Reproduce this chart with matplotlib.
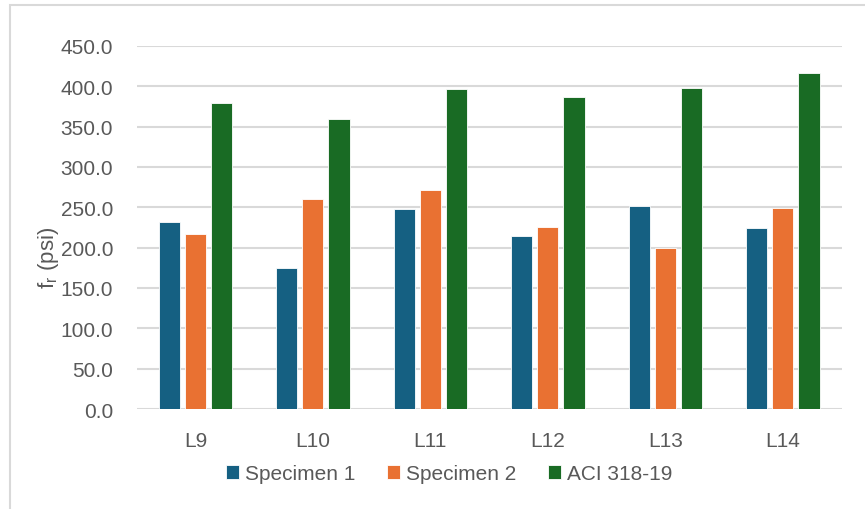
import numpy as np
import matplotlib.pyplot as plt
from matplotlib.patches import Rectangle

# flexural strength per specimen group
groups = ['L9', 'L10', 'L11', 'L12', 'L13', 'L14']
specimen_1 = [232.0, 175.0, 248.0, 215.0, 252.0, 224.0]
specimen_2 = [217.0, 260.0, 271.0, 226.0, 200.0, 249.0]
aci_318 = [379.0, 359.0, 397.0, 387.0, 398.0, 416.0]
series_names = ['Specimen 1', 'Specimen 2', 'ACI 318-19']

colors = ['#156082', '#E97132', '#196B24']
txt = '#595959'
grid = '#D9D9D9'

plt.rcParams['font.family'] = ['Liberation Sans', 'DejaVu Sans']

fig = plt.figure(figsize=(8.65, 5.10), dpi=100)
ax = fig.add_axes([0.158, 0.196, 0.815, 0.712])

x = np.arange(len(groups))
step = 0.222
width = 0.18
for i, (vals, c, name) in enumerate(zip([specimen_1, specimen_2, aci_318], colors, series_names)):
    ax.bar(x + (i - 1) * step, vals, width, color=c, edgecolor='white',
           linewidth=0.6, label=name, zorder=3)

ax.set_xlim(-0.5, len(groups) - 0.5)
ax.set_ylim(0, 450)
ax.set_yticks(np.arange(0, 451, 50))
ax.set_yticklabels([f'{v:.1f}' for v in np.arange(0, 451, 50)])
ax.set_xticks(x)
ax.set_xticklabels(groups)
ax.grid(axis='y', color=grid, linewidth=1.5, zorder=0)
for s in ax.spines.values():
    s.set_visible(False)
ax.tick_params(axis='both', length=0, colors=txt, labelsize=15)
ax.tick_params(axis='y', pad=17)
ax.tick_params(axis='x', pad=16)
ax.set_ylabel(r'f$_\mathregular{r}$ (psi)', color=txt, fontsize=16)
ax.yaxis.set_label_coords(-0.108, 0.42)

ax.legend(loc='center', bbox_to_anchor=(0.443, -0.178), ncol=3, frameon=False,
          fontsize=15, labelcolor=txt, handlelength=0.65, handleheight=0.65,
          handletextpad=0.28, columnspacing=1.5)

# light frame around the chart area
fig.patches.append(Rectangle((10 / 865, -0.02), 1.5, 1 - 6 / 510 + 0.02,
                             transform=fig.transFigure, fill=False,
                             edgecolor=grid, linewidth=1.5))

fig.savefig('out.png', dpi=100)
